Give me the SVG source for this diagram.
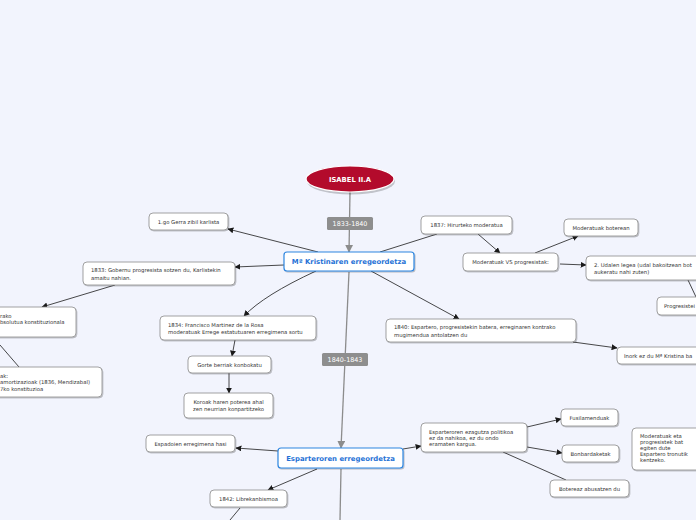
<svg xmlns="http://www.w3.org/2000/svg" width="696" height="520" viewBox="0 0 696 520">
<defs>
<style>
.bx{fill:#fff;stroke:#8a8a8a;stroke-width:0.8;filter:url(#sh)}
.mb{fill:#fff;stroke:#2f86e0;stroke-width:1.2;filter:url(#sh)}
.t{font-family:"DejaVu Sans",Verdana,sans-serif;font-size:5.3px;fill:#333}
.c{text-anchor:middle}
.mt{font-family:"DejaVu Sans",Verdana,sans-serif;font-size:6.9px;font-weight:bold;fill:#1f72d6;text-anchor:middle}
.lb{fill:#8e8e8e}
.lt{font-family:"DejaVu Sans",Verdana,sans-serif;font-size:6.4px;fill:#fff;text-anchor:middle}
.ln{stroke:#1a1a1a;stroke-width:0.8;fill:none}
.ar{marker-end:url(#ah)}
.gl{stroke:#8c8c8c;stroke-width:1.3;fill:none;marker-end:url(#gh)}
</style>
<filter id="sh" x="-10%" y="-20%" width="130%" height="160%"><feDropShadow dx="0.8" dy="1" stdDeviation="0.6" flood-color="#000" flood-opacity="0.25"/></filter>
<marker id="ah" viewBox="0 0 10 10" refX="9" refY="5" markerWidth="6" markerHeight="6" markerUnits="userSpaceOnUse" orient="auto"><path d="M0,0 L10,5 L0,10 z" fill="#1a1a1a"/></marker>
<marker id="gh" viewBox="0 0 10 10" refX="9" refY="5" markerWidth="8" markerHeight="8" markerUnits="userSpaceOnUse" orient="auto"><path d="M0,0 L10,5 L0,10 z" fill="#8c8c8c"/></marker>
</defs>
<rect width="696" height="520" fill="#f2f4fd"/>

<g id="connectors">
<line class="gl" x1="350" y1="192" x2="349" y2="252"/>
<line class="gl" x1="349" y1="272" x2="341" y2="448"/>
<line x1="341" y1="469" x2="340" y2="520" stroke="#8c8c8c" stroke-width="1.3"/>
<line class="ln ar" x1="318" y1="252" x2="228" y2="229"/>
<line class="ln ar" x1="284" y1="265" x2="235" y2="267"/>
<line class="ln ar" x1="115" y1="285" x2="42" y2="307"/>
<line class="ln" x1="0" y1="345" x2="19" y2="367"/>
<path class="ln ar" d="M316,271 Q264,295 244,316"/>
<line class="ln ar" x1="235" y1="340" x2="232" y2="356"/>
<line class="ln ar" x1="229" y1="373" x2="229" y2="393"/>
<line class="ln" x1="380" y1="252" x2="437" y2="234"/>
<line class="ln ar" x1="478" y1="234" x2="500" y2="253"/>
<line class="ln ar" x1="535" y1="253" x2="578" y2="236"/>
<line class="ln ar" x1="560" y1="264" x2="586" y2="265"/>
<line class="ln" x1="688" y1="280" x2="696" y2="297"/>
<line class="ln ar" x1="371" y1="271" x2="459" y2="319"/>
<line class="ln ar" x1="573" y1="342" x2="617" y2="348"/>
<line class="ln ar" x1="278" y1="451" x2="236" y2="448"/>
<line class="ln ar" x1="403" y1="449" x2="421" y2="446"/>
<line class="ln ar" x1="527" y1="427" x2="561" y2="419"/>
<line class="ln ar" x1="527" y1="447" x2="562" y2="453"/>
<line class="ln" x1="503" y1="452" x2="566" y2="480"/>
<line class="ln ar" x1="317" y1="469" x2="268" y2="490"/>
<line class="ln" x1="240" y1="508" x2="230" y2="520"/>
<rect class="lb" x="327" y="217" width="46" height="13" rx="1.5"/>
<text class="lt" x="350" y="226.3">1833-1840</text>
<rect class="lb" x="322" y="353" width="46" height="13" rx="1.5"/>
<text class="lt" x="345" y="362.3">1840-1843</text>
</g>

<g id="isabel">
<ellipse cx="350" cy="180" rx="44" ry="13" fill="#000" opacity="0.2" transform="translate(1,1.5)"/>
<ellipse cx="350" cy="179" rx="44" ry="13" fill="#b30b2c" stroke="#fff" stroke-width="1.2"/>
<text x="350" y="181.5" font-family="DejaVu Sans,Verdana,sans-serif" font-size="6.8" font-weight="bold" fill="#fff" text-anchor="middle">ISABEL II.A</text>
</g>

<g id="kristina">
<rect class="mb" x="284" y="252" width="130" height="19" rx="3"/>
<text class="mt" x="349" y="264">Mª Kristinaren erregeordetza</text>
</g>

<g id="gerra">
<rect class="bx" x="149" y="213" width="79" height="17" rx="4"/>
<text class="t c" x="188.5" y="223.5">1.go Gerra zibil karlista</text>
</g>

<g id="n1833">
<rect class="bx" x="83" y="262" width="152" height="23" rx="4"/>
<text class="t" x="91" y="272">1833: Gobernu progresista sotzen du, Karlistekin</text>
<text class="t" x="91" y="279.5">amaitu nahian.</text>
</g>

<g id="absolutua">
<rect class="bx" x="-10" y="307" width="86" height="30" rx="4"/>
<text class="t" x="0" y="317.8">rako</text>
<text class="t" x="0" y="323.8">bsolutua konstituzionala</text>
</g>

<g id="amortizazioak">
<rect class="bx" x="-10" y="367" width="112" height="30" rx="4"/>
<text class="t" x="0" y="378">ak:</text>
<text class="t" x="0" y="384.4">amortizazioak (1836, Mendizabal)</text>
<text class="t" x="0" y="391">7ko konstituzioa</text>
</g>

<g id="n1834">
<rect class="bx" x="160" y="316" width="156" height="24" rx="4"/>
<text class="t" x="168" y="326.5">1834: Francisco Martinez de la Rosa</text>
<text class="t" x="168" y="334">moderatuak Errege estatutuaren erregimena sortu</text>
</g>

<g id="gorte">
<rect class="bx" x="188" y="356" width="83" height="17" rx="4"/>
<text class="t c" x="229.5" y="366.5">Gorte berriak konbokatu</text>
</g>

<g id="koroak">
<rect class="bx" x="184" y="393" width="89" height="25" rx="4"/>
<text class="t c" x="228.5" y="404">Koroak haren poterea ahal</text>
<text class="t c" x="228.5" y="411">zen neurrian konpartitzeko</text>
</g>

<g id="n1837">
<rect class="bx" x="421" y="216" width="91" height="18" rx="4"/>
<text class="t c" x="466.5" y="227">1837: Hirurteko moderatua</text>
</g>

<g id="vs">
<rect class="bx" x="463" y="253" width="95" height="18" rx="4"/>
<text class="t c" x="510.5" y="264">Moderatuak VS progresistak:</text>
</g>

<g id="boterean">
<rect class="bx" x="564" y="219" width="74" height="17" rx="4"/>
<text class="t c" x="601" y="229.5">Moderatuak boterean</text>
</g>

<g id="udalen">
<rect class="bx" x="586" y="256" width="120" height="24" rx="4"/>
<text class="t" x="594" y="266.5">2. Udalen legea (udal bakoitzean bot</text>
<text class="t" x="594" y="274">aukeratu nahi zuten)</text>
</g>

<g id="progresistei">
<rect class="bx" x="657" y="297" width="50" height="18" rx="4"/>
<text class="t" x="664" y="308">Progresistei</text>
</g>

<g id="n1840">
<rect class="bx" x="386" y="319" width="190" height="23" rx="4"/>
<text class="t" x="394" y="329">1840: Espartero, progresistekin batera, erreginaren kontrako</text>
<text class="t" x="394" y="336.5">mugimendua antolatzen du</text>
</g>

<g id="inork">
<rect class="bx" x="617" y="347" width="90" height="17" rx="4"/>
<text class="t" x="624" y="357.5">Inork ez du Mª Kristina ba</text>
</g>

<g id="espartero">
<rect class="mb" x="278" y="448" width="125" height="20" rx="3"/>
<text class="mt" x="340.5" y="460.5">Esparteroren erregeordetza</text>
</g>

<g id="espadoien">
<rect class="bx" x="146" y="435" width="89" height="17" rx="4"/>
<text class="t c" x="190.5" y="445.5">Espadoien erregimena hasi</text>
</g>

<g id="ezagutza">
<rect class="bx" x="421" y="423" width="106" height="29" rx="4"/>
<text class="t" x="429" y="433.5">Esparteroren ezagutza politikoa</text>
<text class="t" x="429" y="439.8">ez da nahikoa, ez du ondo</text>
<text class="t" x="429" y="446">eramaten kargua.</text>
</g>

<g id="fusilamenduak">
<rect class="bx" x="561" y="409" width="57" height="17" rx="4"/>
<text class="t c" x="589.5" y="419.5">Fusilamenduak</text>
</g>

<g id="bonbardaketak">
<rect class="bx" x="562" y="445" width="57" height="17" rx="4"/>
<text class="t c" x="590.5" y="455.5">Bonbardaketak</text>
</g>

<g id="botereaz">
<rect class="bx" x="550" y="480" width="79" height="17" rx="4"/>
<text class="t c" x="589.5" y="490.5">Botereaz abusatzen du</text>
</g>

<g id="bategiten">
<rect class="bx" x="632" y="428" width="70" height="42" rx="4"/>
<text class="t" x="640" y="437.5">Moderatuak eta</text>
<text class="t" x="640" y="443.5">progresistek bat</text>
<text class="t" x="640" y="449.5">egiten dute</text>
<text class="t" x="640" y="455.5">Espartero tronutik</text>
<text class="t" x="640" y="461.5">kentzeko.</text>
</g>

<g id="n1842">
<rect class="bx" x="210" y="490" width="77" height="17" rx="4"/>
<text class="t c" x="248.5" y="500.5">1842: Librekanbismoa</text>
</g>
</svg>
